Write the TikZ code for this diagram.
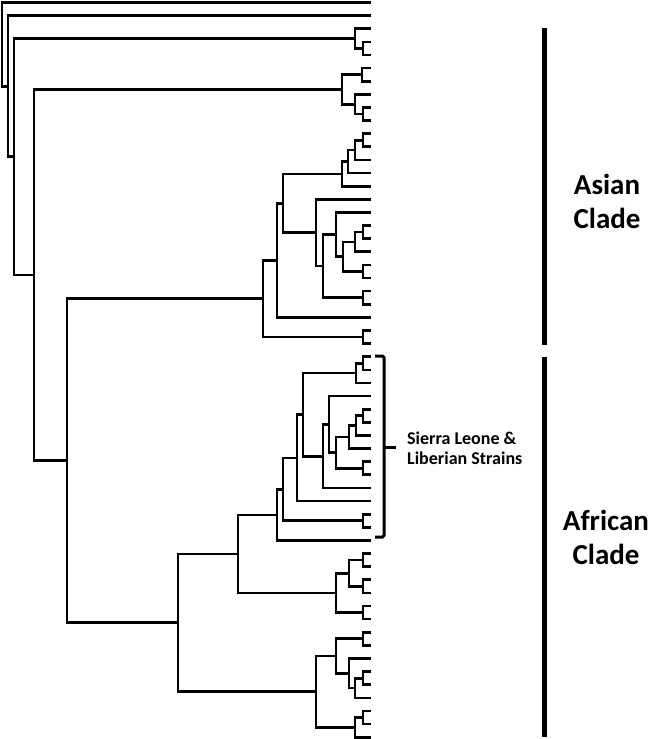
\documentclass[tikz,border=0pt]{standalone}
\usepackage{fontspec}
\setmainfont{Carlito}
\usetikzlibrary{calc}
\newcommand\clade[4]{%
  \path let \p1=(#3), \p2=(#4) in coordinate (#1) at (#2pt,{0.5*(\y1+\y2)});
  \draw[branch] (#3) -| (#1) |- (#4);}
\begin{document}
\begin{tikzpicture}[x=1pt,y=-1pt,
  branch/.style={line width=2.7pt, line join=miter, line cap=butt},
  cladebar/.style={line width=5pt},
  bracketline/.style={line width=3pt, rounded corners=1.5pt},
  cladelabel/.style={font=\bfseries\fontsize{29}{34}\selectfont, align=center, inner sep=0pt},
  strainlabel/.style={font=\bfseries\fontsize{18}{20}\selectfont, align=left, inner sep=0pt, anchor=west}]
\useasboundingbox (0,0) rectangle (651,739);
\foreach \i in {0,...,56} \coordinate (L\i) at (371,{2.5+13.12*\i});
% top outgroups
\clade{a1}{363}{L3}{L4}
\clade{a2}{355}{L2}{a1}
\clade{a3}{362}{L5}{L6}
\clade{a4}{363}{L8}{L9}
\clade{a5}{355}{L7}{a4}
\clade{a6}{342}{a3}{a5}
% Asian clade
\clade{b1}{363}{L10}{L11}
\clade{b2}{355}{b1}{L12}
\clade{b3}{348}{b2}{L13}
\clade{b4}{342}{b3}{L14}
\clade{b5}{363}{L17}{L18}
\clade{b6}{355}{b5}{L19}
\clade{b7}{363}{L20}{L21}
\clade{b8}{343}{b6}{b7}
\clade{b9}{336}{L16}{b8}
\clade{b10}{363}{L22}{L23}
\clade{b11}{323}{b9}{b10}
\clade{b12}{316}{L15}{b11}
\clade{b13}{283}{b4}{b12}
\clade{b14}{277}{b13}{L24}
\clade{b15}{363}{L25}{L26}
\clade{b16}{263}{b14}{b15}
% African clade
\clade{c1}{363}{L27}{L28}
\clade{c2}{356}{c1}{L29}
\clade{c3}{363}{L31}{L32}
\clade{c4}{356}{c3}{L33}
\clade{c5}{349}{c4}{L34}
\clade{c6}{363}{L35}{L36}
\clade{c7}{336}{c5}{c6}
\clade{c8}{329}{L30}{c7}
\clade{c9}{323}{c8}{L37}
\clade{c10}{303}{c2}{c9}
\clade{c11}{297}{c10}{L38}
\clade{c12}{363}{L39}{L40}
\clade{c13}{283}{c11}{c12}
\clade{c14}{277}{c13}{L41}
\clade{d1}{363}{L42}{L43}
\clade{d2}{363}{L44}{L45}
\clade{d3}{349}{d1}{d2}
\clade{d4}{363}{L46}{L47}
\clade{d5}{336}{d3}{d4}
\clade{d6}{238}{c14}{d5}
\clade{e1}{363}{L48}{L49}
\clade{e2}{363}{L51}{L52}
\clade{e3}{355}{e2}{L53}
\clade{e4}{349}{L50}{e3}
\clade{e5}{336}{e1}{e4}
\clade{e6}{363}{L54}{L55}
\clade{e7}{355}{e6}{L56}
\clade{e8}{316}{e5}{e7}
\clade{e9}{178}{d6}{e8}
% backbone
\clade{f1}{67}{b16}{e9}
\clade{f2}{34}{a6}{f1}
\clade{f3}{14}{a2}{f2}
\clade{f4}{8}{L1}{f3}
\clade{root}{2}{L0}{f4}
% clade bars
\coordinate (asianTop) at (544,28);
\coordinate (asianBot) at (544,345);
\coordinate (africanTop) at (544,357);
\coordinate (africanBot) at (544,737);
\draw[cladebar] (asianTop) -- (asianBot);
\draw[cladebar] (africanTop) -- (africanBot);
\node[cladelabel] (asian) at (607,201) {Asian\\Clade};
\node[cladelabel] (african) at (606,537) {African\\Clade};
% bracket
\coordinate (brTopEnd) at (375,356);
\coordinate (brTop) at (384,356);
\coordinate (brBot) at (384,537);
\coordinate (brBotEnd) at (375,537);
\coordinate (brMid) at (384,447);
\coordinate (brTip) at (396,447);
\draw[bracketline] (brTopEnd) -- (brTop) -- (brBot) -- (brBotEnd);
\draw[line width=3pt] (brMid) -- (brTip);
\node[strainlabel] (strains) at (407,448) {Sierra Leone \&\\Liberian Strains};
\end{tikzpicture}
\end{document}
